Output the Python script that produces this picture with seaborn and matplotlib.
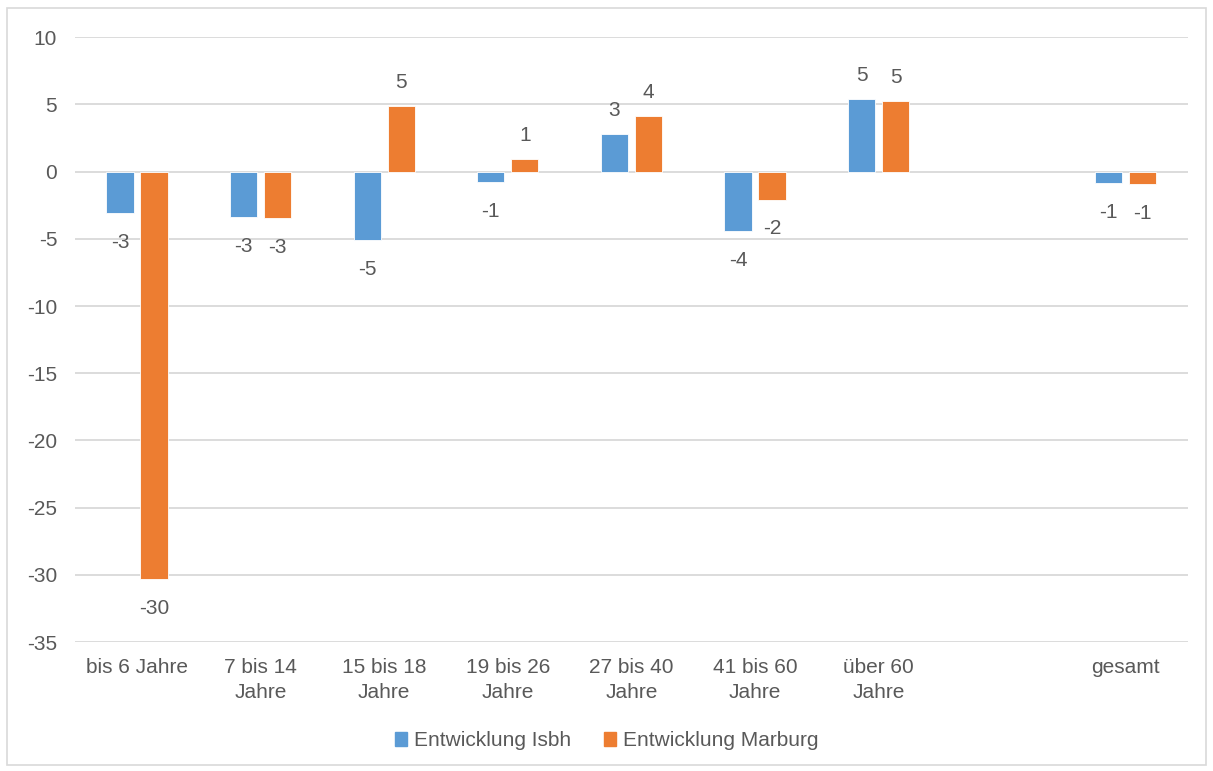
import seaborn as sns
import matplotlib.pyplot as plt
import matplotlib.patches as mpatches
import numpy as np
import pandas as pd

# Kategorien (leere Stelle zwischen "über 60" und "gesamt")
kategorien = ["bis 6 Jahre", "7 bis 14\nJahre", "15 bis 18\nJahre", "19 bis 26\nJahre",
              "27 bis 40\nJahre", "41 bis 60\nJahre", "über 60\nJahre", " ", "gesamt"]
isbh = [-3.1, -3.4, -5.1, -0.8, 2.8, -4.45, 5.4, np.nan, -0.85]
marburg = [-30.3, -3.45, 4.85, 0.9, 4.1, -2.1, 5.25, np.nan, -0.95]
serien = ["Entwicklung Isbh", "Entwicklung Marburg"]
farben = ["#5B9BD5", "#ED7D31"]

df = pd.DataFrame({
    "Kategorie": kategorien * 2,
    "Wert": isbh + marburg,
    "Serie": [serien[0]] * len(kategorien) + [serien[1]] * len(kategorien),
}).dropna()

sns.set_theme(style="white")
plt.rcParams["font.family"] = ["Liberation Sans", "DejaVu Sans"]
plt.rcParams["axes.unicode_minus"] = False
textfarbe = "#595959"
fs = 15

fig = plt.figure(figsize=(12.13, 7.71), dpi=100)
ax = fig.add_axes([0.062, 0.167, 0.917, 0.785])

sns.barplot(data=df, x="Kategorie", y="Wert", hue="Serie", order=kategorien,
            hue_order=serien, palette=farben, saturation=1, width=0.55, gap=0.2,
            edgecolor="white", linewidth=0.6, ax=ax)

ax.set_ylim(-35, 10)
ax.set_yticks(range(-35, 11, 5))
ax.set_xlim(-0.5, len(kategorien) - 0.5)
ax.grid(axis="y", color="#d9d9d9", linewidth=1.3)
ax.set_axisbelow(True)
for s in ax.spines.values():
    s.set_visible(False)
ax.set_xlabel("")
ax.set_ylabel("")
ax.tick_params(axis="both", length=0, labelsize=fs, colors=textfarbe)
ax.tick_params(axis="y", pad=13)
ax.tick_params(axis="x", pad=11)
for t in ax.get_xticklabels():
    t.set_linespacing(1.4)

# Datenbeschriftungen
for container in ax.containers:
    for bar in container:
        h = bar.get_height()
        if np.isnan(h):
            continue
        x = bar.get_x() + bar.get_width() / 2
        label = str(int(np.sign(h) * np.floor(abs(h) + 0.5)))
        off = 17 if h >= 0 else -21
        ax.annotate(label, (x, h), xytext=(0, off), textcoords="offset points",
                    ha="center", va="center", fontsize=fs, color=textfarbe)

ax.get_legend().remove()
handles = [mpatches.Patch(color=c) for c in farben]
fig.legend(handles, serien, loc="center", bbox_to_anchor=(0.5, 0.039), ncol=2,
           frameon=False, fontsize=fs, labelcolor=textfarbe,
           handlelength=0.6, handleheight=0.6, handletextpad=0.3, columnspacing=1.6)

# Rahmen um das Diagramm
fig.patches.append(mpatches.Rectangle((0.006, 0.008), 0.988, 0.981, transform=fig.transFigure,
                                      fill=False, edgecolor="#d9d9d9", linewidth=1.2))

fig.savefig("out.png", dpi=100)
